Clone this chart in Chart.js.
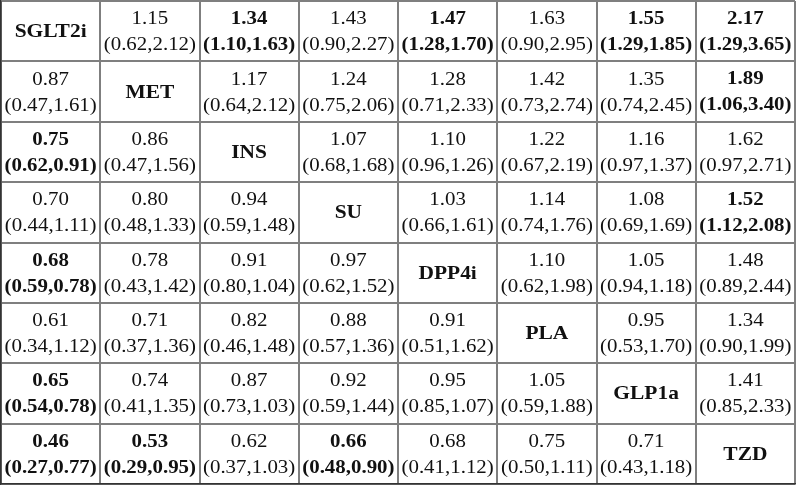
<!DOCTYPE html>
<html>
<head>
<meta charset="utf-8">
<script src="https://cdn.jsdelivr.net/npm/chart.js@4"></script>
<style>
  html, body { margin: 0; padding: 0; background: #fff; }
  #wrap { width: 797px; height: 485px; }
</style>
</head>
<body>
<div id="wrap"><canvas id="leagueChart"></canvas></div>
<script>
// treatments on the diagonal, row i / column j = i vs j
const treatments = ['SGLT2i', 'MET', 'INS', 'SU', 'DPP4i', 'PLA', 'GLP1a', 'TZD'];

const estimates = [
    [null, 1.15, 1.34, 1.43, 1.47, 1.63, 1.55, 2.17],
    [0.87, null, 1.17, 1.24, 1.28, 1.42, 1.35, 1.89],
    [0.75, 0.86, null, 1.07, 1.10, 1.22, 1.16, 1.62],
    [0.70, 0.80, 0.94, null, 1.03, 1.14, 1.08, 1.52],
    [0.68, 0.78, 0.91, 0.97, null, 1.10, 1.05, 1.48],
    [0.61, 0.71, 0.82, 0.88, 0.91, null, 0.95, 1.34],
    [0.65, 0.74, 0.87, 0.92, 0.95, 1.05, null, 1.41],
    [0.46, 0.53, 0.62, 0.66, 0.68, 0.75, 0.71, null]
];
const lower = [
    [null, 0.62, 1.10, 0.90, 1.28, 0.90, 1.29, 1.29],
    [0.47, null, 0.64, 0.75, 0.71, 0.73, 0.74, 1.06],
    [0.62, 0.47, null, 0.68, 0.96, 0.67, 0.97, 0.97],
    [0.44, 0.48, 0.59, null, 0.66, 0.74, 0.69, 1.12],
    [0.59, 0.43, 0.80, 0.62, null, 0.62, 0.94, 0.89],
    [0.34, 0.37, 0.46, 0.57, 0.51, null, 0.53, 0.90],
    [0.54, 0.41, 0.73, 0.59, 0.85, 0.59, null, 0.85],
    [0.27, 0.29, 0.37, 0.48, 0.41, 0.50, 0.43, null]
];
const upper = [
    [null, 2.12, 1.63, 2.27, 1.70, 2.95, 1.85, 3.65],
    [1.61, null, 2.12, 2.06, 2.33, 2.74, 2.45, 3.40],
    [0.91, 1.56, null, 1.68, 1.26, 2.19, 1.37, 2.71],
    [1.11, 1.33, 1.48, null, 1.61, 1.76, 1.69, 2.08],
    [0.78, 1.42, 1.04, 1.52, null, 1.98, 1.18, 2.44],
    [1.12, 1.36, 1.48, 1.36, 1.62, null, 1.70, 1.99],
    [0.78, 1.35, 1.03, 1.44, 1.07, 1.88, null, 2.33],
    [0.77, 0.95, 1.03, 0.90, 1.12, 1.11, 1.18, null]
];

const n = treatments.length;
const cells = [];
for (let i = 0; i < n; i++) {
    for (let j = 0; j < n; j++) {
        cells.push({ x: j + 0.5, y: i + 0.5, row: i, col: j });
    }
}

// writes the text of every cell at the point the scales gave it
const cellText = {
    id: 'cellText',
    afterDatasetsDraw(chart) {
        const ctx = chart.ctx;
        const meta = chart.getDatasetMeta(0);
        ctx.save();
        ctx.fillStyle = '#111';
        ctx.textAlign = 'center';
        ctx.textBaseline = 'middle';
        meta.data.forEach((pt, k) => {
            const c = cells[k];
            const i = c.row, j = c.col;
            ctx.save();
            ctx.translate(pt.x, pt.y);
            ctx.scale(1.1, 1); // source text is a bit wide
            if (i === j) {
                ctx.font = 'bold 19.5px "Liberation Serif"';
                ctx.fillText(treatments[i], 0, 1);
            } else {
                const sig = lower[i][j] > 1 || upper[i][j] < 1;
                ctx.font = (sig ? 'bold ' : '') + '19px "Liberation Serif"';
                ctx.fillText(estimates[i][j].toFixed(2), 0, -12);
                ctx.fillText('(' + lower[i][j].toFixed(2) + ',' + upper[i][j].toFixed(2) + ')', 0, 14);
            }
            ctx.restore();
        });
        ctx.restore();
    }
};

new Chart(document.getElementById('leagueChart'), {
    type: 'scatter',
    data: {
        datasets: [{
            data: cells,
            pointRadius: 0,
            pointHoverRadius: 0
        }]
    },
    options: {
        responsive: true,
        maintainAspectRatio: false,
        animation: false,
        layout: { padding: { left: 1, top: 1, right: 2, bottom: 1 } },
        plugins: {
            legend: { display: false },
            tooltip: { enabled: false }
        },
        scales: {
            x: {
                min: 0, max: n,
                ticks: { display: false, stepSize: 1 },
                grid: { color: '#7f7f7f', lineWidth: 2, drawTicks: false },
                border: { color: '#333', width: 1.5 }
            },
            y: {
                min: 0, max: n,
                reverse: true,
                ticks: { display: false, stepSize: 1 },
                grid: { color: '#7f7f7f', lineWidth: 2, drawTicks: false },
                border: { color: '#333', width: 1.5 }
            }
        }
    },
    plugins: [cellText]
});
</script>
</body>
</html>
